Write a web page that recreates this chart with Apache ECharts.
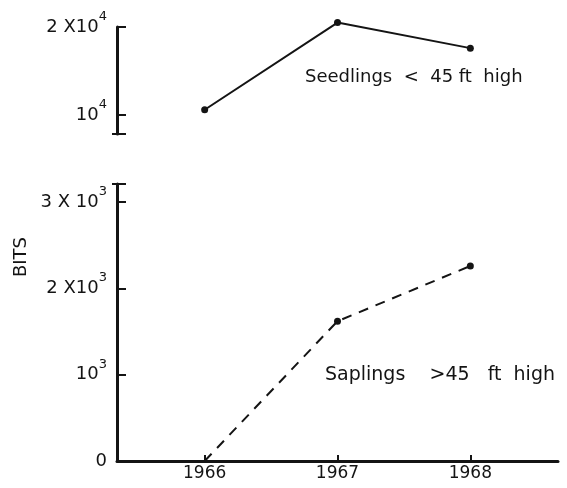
<!DOCTYPE html>
<html>
<head>
<meta charset="utf-8">
<script src="https://cdn.jsdelivr.net/npm/echarts@6/dist/echarts.min.js"></script>
<style>
  html, body { margin: 0; padding: 0; background: #fff; }
  #chart { width: 567px; height: 488px; }
</style>
</head>
<body>
<div id="chart"></div>
<script>
// Information content (bits) of the stand, by year
const years = [1966, 1967, 1968];
const seedlingBits = [10600, 20500, 17600];   // seedlings < 45 ft high
const saplingBits = [0, 1620, 2260];          // saplings > 45 ft high

const seedlingTicks = [10000, 20000];
const saplingTicks = [0, 1000, 2000, 3000];
const seedlingLabels = { 10000: ['10', '4'], 20000: ['2 X10', '4'] };
const saplingLabels = { 0: ['0', ''], 1000: ['10', '3'], 2000: ['2 X10', '3'], 3000: ['3 X 10', '3'] };

const INK = '#141414';
const FONT = 'DejaVu Sans';

const xRange = { min: 1965.34, max: 1968.66 };
const topRange = { min: 7850, max: 20000 };
const bottomRange = { min: 0, max: 3210 };

const rich = {
  n: { fontFamily: FONT, fontSize: 18, color: INK, lineHeight: 34 },
  s: { fontFamily: FONT, fontSize: 13, color: INK, verticalAlign: 'top', lineHeight: 13 }
};

function fmt(table) {
  return function (v) {
    const p = table[v];
    if (!p) return '';
    return p[1] ? '{n|' + p[0] + '}{s|' + p[1] + '}' : '{n|' + p[0] + '}';
  };
}

function mainY(grid, range, ticks, labels) {
  return {
    type: 'value', gridIndex: grid, position: 'left',
    min: range.min, max: range.max,
    axisLine: { show: true, lineStyle: { color: INK, width: 3 } },
    axisTick: { show: true, inside: true, length: 9, lineStyle: { color: INK, width: 2 },
      customValues: ticks.filter(t => t > 0).concat([grid === 0 ? range.min : range.max]) },
    axisLabel: { show: true, margin: 10, customValues: ticks, formatter: fmt(labels), rich: rich },
    splitLine: { show: false }
  };
}

// short outward stubs that close the axis ends into a "T"
function capY(grid, range, at) {
  return {
    type: 'value', gridIndex: grid, position: 'left',
    min: range.min, max: range.max,
    axisLine: { show: false },
    axisTick: { show: true, inside: false, length: 5, lineStyle: { color: INK, width: 2 }, customValues: [at] },
    axisLabel: { show: false },
    splitLine: { show: false }
  };
}

const option = {
  backgroundColor: '#fff',
  animation: false,
  grid: [
    { left: 117, right: 9, top: 27, height: 107 },
    { left: 117, right: 9, top: 184, height: 277 }
  ],
  xAxis: [
    { type: 'value', gridIndex: 0, min: xRange.min, max: xRange.max, show: false },
    {
      type: 'value', gridIndex: 1, min: xRange.min, max: xRange.max,
      axisLine: { show: true, onZero: false, lineStyle: { color: INK, width: 3 } },
      axisTick: { show: true, inside: true, length: 6, lineStyle: { color: INK, width: 2 }, customValues: years },
      axisLabel: { show: true, margin: 4, customValues: years, fontFamily: FONT, fontSize: 17, color: INK,
        formatter: v => String(v) },
      splitLine: { show: false }
    }
  ],
  yAxis: [
    mainY(0, topRange, seedlingTicks, seedlingLabels),
    capY(0, topRange, topRange.min),
    mainY(1, bottomRange, saplingTicks, saplingLabels),
    capY(1, bottomRange, bottomRange.max)
  ],
  series: [
    {
      type: 'line', xAxisIndex: 0, yAxisIndex: 0, clip: false,
      data: years.map((y, i) => [y, seedlingBits[i]]),
      symbol: 'circle', symbolSize: 7,
      itemStyle: { color: INK },
      lineStyle: { color: INK, width: 2 }
    },
    {
      type: 'line', xAxisIndex: 1, yAxisIndex: 2, clip: false,
      data: years.map((y, i) => ({ value: [y, saplingBits[i]], symbol: i === 0 ? 'none' : 'circle' })),
      symbolSize: 7,
      itemStyle: { color: INK },
      lineStyle: { color: INK, width: 2, type: [10, 8] }
    }
  ],
  graphic: [
    { type: 'text', x: 305, y: 77,
      style: { text: 'Seedlings  <  45 ft  high', font: '18px ' + FONT, fill: INK, verticalAlign: 'middle' } },
    { type: 'text', x: 325, y: 375,
      style: { text: 'Saplings    >45   ft  high', font: '19px ' + FONT, fill: INK, verticalAlign: 'middle' } },
    { type: 'text', x: 21, y: 257, rotation: Math.PI / 2,
      style: { text: 'BITS', font: '18px ' + FONT, fill: INK, align: 'center', verticalAlign: 'middle' } }
  ]
};

echarts.init(document.getElementById('chart'), null, { renderer: 'canvas' }).setOption(option);
</script>
</body>
</html>
